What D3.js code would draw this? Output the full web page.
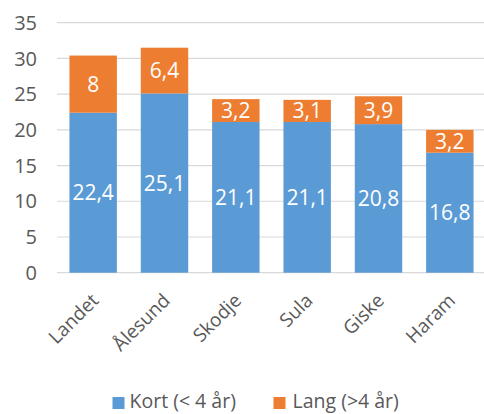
<!DOCTYPE html>
<html><head><meta charset="utf-8">
<script src="https://cdn.jsdelivr.net/npm/d3@7"></script>
<style>body{margin:0;background:#fff}svg{display:block;font-family:"Open Sans",sans-serif}</style>
</head><body><svg id="c" width="484" height="414"></svg>
<script>
const categories = ["Landet","Ålesund","Skodje","Sula","Giske","Haram"];
const kort = [22.4,25.1,21.1,21.1,20.8,16.8];
const lang = [8,6.4,3.2,3.1,3.9,3.2];
const seriesNames = ["Kort (< 4 år)","Lang (>4 år)"];
const yTicks = [0,5,10,15,20,25,30,35];
const colors = ["#5B9BD5","#ED7D31"];

const svg = d3.select("#c");
const x = d3.scaleBand().domain(categories).range([57.5,485.5]).paddingInner(0.335).paddingOuter(0.1675);
const y = d3.scaleLinear().domain([0,35]).range([272.7,22.7]);
const fmt = v => String(v).replace(".", ",");

svg.append("g").selectAll("line").data(yTicks).join("line")
  .attr("x1",57).attr("x2",484).attr("y1",d=>y(d)).attr("y2",d=>y(d))
  .attr("stroke","#D9D9D9").attr("stroke-width",1.2);

svg.append("g").selectAll("text").data(yTicks).join("text")
  .attr("x",37).attr("y",d=>y(d)).attr("dy","0.36em").attr("text-anchor","end")
  .attr("fill","#595959").attr("font-size",20).text(d=>d);

const rows = categories.map((c,i)=>({cat:c,kort:kort[i],lang:lang[i]}));
const stack = d3.stack().keys(["kort","lang"])(rows);

stack.forEach((s,si)=>{
  const g = svg.append("g");
  g.selectAll("rect").data(s).join("rect")
    .attr("x",d=>x(d.data.cat)).attr("width",x.bandwidth())
    .attr("y",d=>y(d[1])).attr("height",d=>y(d[0])-y(d[1]))
    .attr("fill",colors[si]);
  g.selectAll("text").data(s).join("text")
    .attr("x",d=>x(d.data.cat)+x.bandwidth()/2)
    .attr("y",d=>(y(d[0])+y(d[1]))/2).attr("dy","0.36em")
    .attr("text-anchor","middle").attr("fill","#fff").attr("font-size",21)
    .text(d=>fmt(d.data[s.key]));
});

svg.append("g").selectAll("text").data(categories).join("text")
  .attr("transform",d=>`translate(${x(d)+x.bandwidth()/2+2},${297}) rotate(-45)`)
  .attr("text-anchor","end").attr("dy","0.35em")
  .attr("fill","#595959").attr("font-size",19).text(d=>d);

const leg = [{x:112.5,tx:129.5},{x:273.5,tx:292.5}];
seriesNames.forEach((n,i)=>{
  svg.append("rect").attr("x",leg[i].x).attr("y",397).attr("width",12).attr("height",12).attr("fill",colors[i]);
  svg.append("text").attr("x",leg[i].tx).attr("y",408)
    .attr("fill","#595959").attr("font-size",19.5).text(n);
});
</script></body></html>
